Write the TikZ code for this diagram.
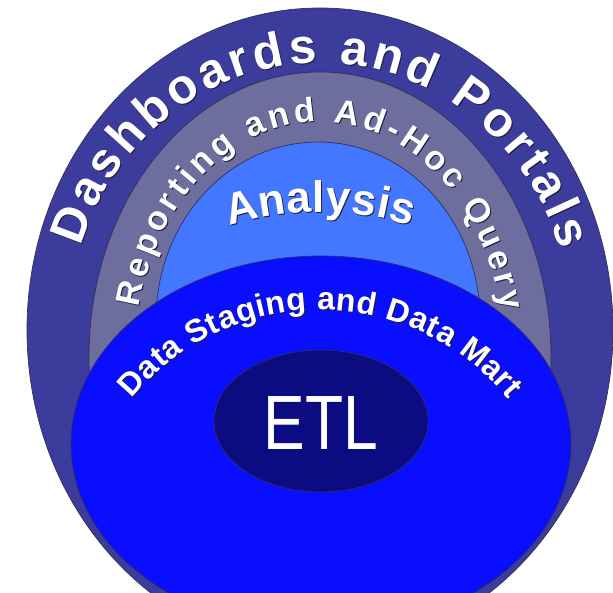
\documentclass[tikz,border=0pt]{standalone}
\usepackage{fontspec}
\usetikzlibrary{decorations.text}
\newfontfamily\arcfont{Liberation Sans}
\newfontfamily\etlfont[FakeStretch=0.81]{Liberation Sans}
\definecolor{outerc}{HTML}{3B3C9C}
\definecolor{grayc}{HTML}{6E6E9E}
\definecolor{lightc}{HTML}{4477FF}
\definecolor{brightc}{HTML}{0A0EFF}
\definecolor{etlc}{HTML}{0B0B82}
\definecolor{edgec}{HTML}{303058}
\definecolor{shadowc}{HTML}{1E1E3C}
% #1 font size, #2 extra letter spacing, #3 text, #4 path
\newcommand\arclabel[4]{%
  \path[shift={(1,-1)}, decorate, decoration={text along path, text align=center,
     text={|\arcfont\bfseries\fontsize{#1}{#1}\selectfont\color{shadowc}\kern#2pt|#3}}] #4;
  \path[decorate, decoration={text along path, text align=center,
     text={|\arcfont\bfseries\fontsize{#1}{#1}\selectfont\color{white}\kern#2pt|#3}}] #4;
}
\begin{document}
\begin{tikzpicture}[x=1pt,y=1pt,
  band/.style={draw=edgec, line width=0.7pt}]
\useasboundingbox (0,0) rectangle (613,-592);
\clip (0,0) rectangle (613,-592);
\fill[white] (0,0) rectangle (613,-592);
% layers
\path[band, fill=outerc]  (320,-330) ellipse [x radius=293, y radius=322];
\path[band, fill=grayc]   (320,-357) ellipse [x radius=231, y radius=285];
\path[band, fill=lightc]  (318,-320) ellipse [x radius=162, y radius=178];
\path[band, fill=brightc] (321,-444) ellipse [x radius=250, y radius=188];
\path[band, fill=etlc]    (321,-421) ellipse [x radius=107, y radius=71];
% curved labels
\arclabel{49}{4.1}{Dashboards and Portals}%
  {(68,-330) arc[start angle=180, end angle=0, x radius=252, y radius=267]}
\arclabel{34}{3.9}{Reporting and Ad-Hoc Query}%
  {(135,-357) arc[start angle=180, end angle=0, x radius=185, y radius=235]}
\arclabel{44}{0.5}{Analysis}%
  {(20,-512) arc[start angle=180, end angle=0, radius=300]}
\arclabel{32}{0.6}{Data Staging and Data Mart}%
  {(76,-554) arc[start angle=180, end angle=0, radius=244]}
\node[text=white, font=\etlfont\fontsize{77}{80}\selectfont, inner sep=0pt] (etl) at (321,-423) {ETL};
\end{tikzpicture}
\end{document}
